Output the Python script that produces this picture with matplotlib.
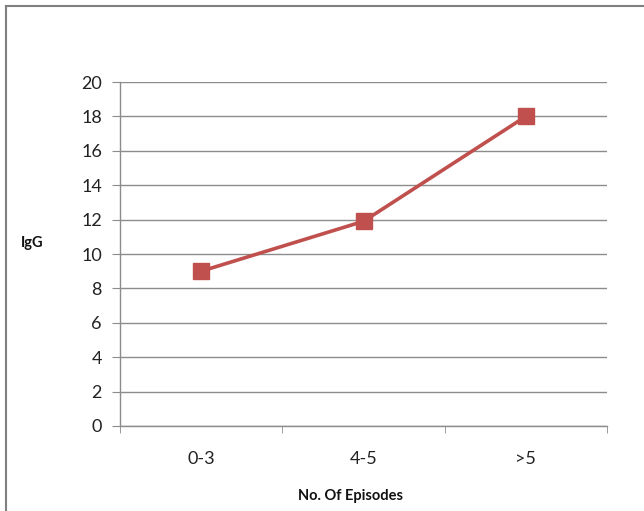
import matplotlib.pyplot as plt
from matplotlib.lines import Line2D

# IgG level by number of episodes
episodes = ['0-3', '4-5', '>5']
igg = [9.0, 11.9, 18.0]
y_ticks = list(range(0, 21, 2))

plt.rcParams['font.family'] = ['Lato', 'DejaVu Sans']

fig = plt.figure(figsize=(6.44, 5.11), dpi=100)
ax = fig.add_axes([120 / 644, 1 - 426 / 511, 487 / 644, 344 / 511])

grid_color = '#8c8c8c'
x = list(range(len(episodes)))
ax.plot(x, igg, color='#C0504D', linewidth=2.6, marker='s', markersize=11,
        markerfacecolor='#C0504D', markeredgecolor='#C0504D', zorder=3)

ax.set_xlim(-0.5, len(episodes) - 0.5)
ax.set_ylim(0, 20)
ax.set_yticks(y_ticks)
ax.set_yticklabels([str(v) for v in y_ticks], fontsize=13, color='#222222')
ax.set_xticks(x)
ax.set_xticklabels(episodes, fontsize=13, color='#222222')
ax.set_xticks([i + 0.5 for i in range(-1, len(episodes))], minor=True)

ax.tick_params(axis='x', which='major', length=0, pad=18)
ax.tick_params(axis='x', which='minor', length=5, color=grid_color, direction='out')
ax.tick_params(axis='y', length=6, color=grid_color, pad=7)

ax.yaxis.grid(True, color=grid_color, linewidth=1)
ax.set_axisbelow(True)
for side in ['top', 'right']:
    ax.spines[side].set_visible(False)
for side in ['left', 'bottom']:
    ax.spines[side].set_color(grid_color)
    ax.spines[side].set_linewidth(1)

fig.text(32 / 644, 1 - 243 / 511, 'IgG', fontsize=10.5, fontweight='bold',
         ha='center', va='center', color='#111111')
fig.text(350 / 644, 1 - 496 / 511, 'No. Of Episodes', fontsize=10.5,
         fontweight='bold', ha='center', va='center', color='#111111')

# outer chart frame (only top and left edges fall inside the image)
fig.add_artist(Line2D([5.5 / 644, 5.5 / 644], [0, 1 - 6 / 511],
                      transform=fig.transFigure, color='#808080', linewidth=1.5))
fig.add_artist(Line2D([5.5 / 644, 1], [1 - 6 / 511, 1 - 6 / 511],
                      transform=fig.transFigure, color='#808080', linewidth=1.5))

fig.savefig('out.png', dpi=100)
